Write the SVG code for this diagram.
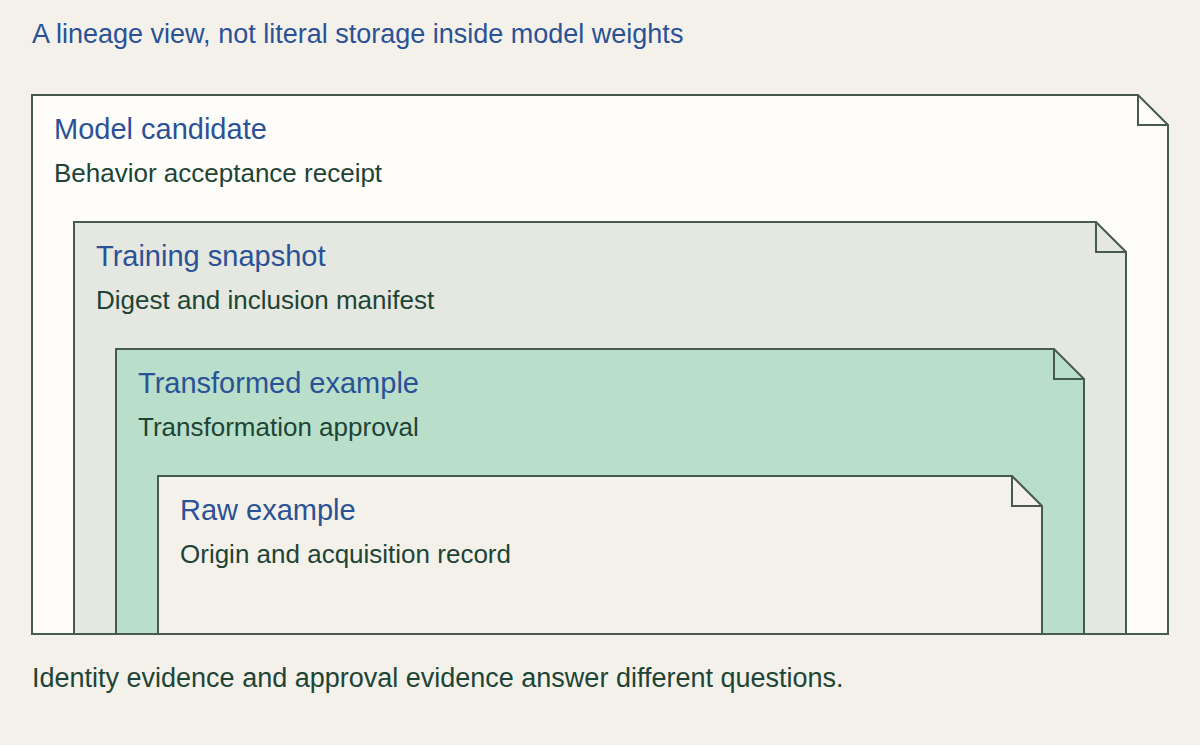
<svg xmlns="http://www.w3.org/2000/svg" width="1200" height="745" viewBox="0 0 1200 745">
<style>
.box{stroke:#465a4e;stroke-width:2;stroke-linejoin:miter}
.fold{fill:none;stroke:#465a4e;stroke-width:2}
.title{font-family:"Liberation Sans",Arial,sans-serif;font-size:29px;fill:#2b5196}
.sub{font-family:"Liberation Sans",Arial,sans-serif;font-size:26px;fill:#1d4435}
.note{font-family:"Liberation Sans",Arial,sans-serif;font-size:27px}
</style>
<rect width="1200" height="745" fill="#f4f1eb"/>
<text class="note" x="32" y="43" fill="#2b5196">A lineage view, not literal storage inside model weights</text>
<g id="model-candidate">
<path class="box" fill="#fffdf9" d="M32,95 H1138 L1168,125 V634 H32 Z"/>
<path class="fold" d="M1138,95 V125 H1168"/>
<text class="title" x="54" y="139">Model candidate</text>
<text class="sub" x="54" y="182">Behavior acceptance receipt</text>
</g>
<g id="training-snapshot">
<path class="box" fill="#e5e8e0" d="M74,222 H1096 L1126,252 V634 H74 Z"/>
<path class="fold" d="M1096,222 V252 H1126"/>
<text class="title" x="96" y="266">Training snapshot</text>
<text class="sub" x="96" y="309">Digest and inclusion manifest</text>
</g>
<g id="transformed-example">
<path class="box" fill="#b9dfca" d="M116,349 H1054 L1084,379 V634 H116 Z"/>
<path class="fold" d="M1054,349 V379 H1084"/>
<text class="title" x="138" y="393">Transformed example</text>
<text class="sub" x="138" y="436">Transformation approval</text>
</g>
<g id="raw-example">
<path class="box" fill="#f4f1eb" d="M158,476 H1012 L1042,506 V634 H158 Z"/>
<path class="fold" d="M1012,476 V506 H1042"/>
<text class="title" x="180" y="520">Raw example</text>
<text class="sub" x="180" y="563">Origin and acquisition record</text>
</g>
<g id="connectors"></g>
<text class="note" x="32" y="687" fill="#1d4435">Identity evidence and approval evidence answer different questions.</text>
</svg>
